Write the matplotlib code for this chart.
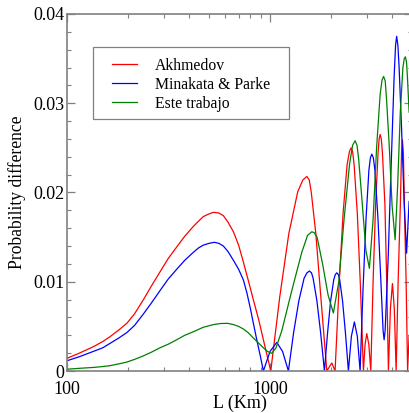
import numpy as np
import matplotlib
matplotlib.use("Agg")
import matplotlib.pyplot as plt
from matplotlib.patches import Rectangle
from matplotlib.ticker import FixedLocator, NullFormatter, FixedFormatter

# values (L in km, probability difference)
akhmedov_L = [100, 115, 135, 150, 163, 180, 197, 215, 238, 260, 287, 315, 347, 380, 419, 445, 469, 500, 526,
              560, 589, 620, 660, 700, 739, 780, 827, 880, 927, 970, 1008,
              1116, 1237, 1369, 1450, 1517, 1560, 1596, 1680, 1778, 1903, 2014, 2090,
              2188, 2289, 2395, 2460, 2506, 2550, 2594, 2689, 2785, 2882, 2938, 2994, 3064, 3134,
              3217, 3310, 3404, 3445, 3484, 3530, 3574, 3677, 3753, 3827, 3914, 4005, 4091, 4177,
              4271, 4379, 4440, 4485, 4535, 4587, 4677, 4757, 4839]
akhmedov_P = [0.00142, 0.0020, 0.00273, 0.0033, 0.00385, 0.0046, 0.00534, 0.0064, 0.0080, 0.0095, 0.0111, 0.0126, 0.0139, 0.0151, 0.0162, 0.0168, 0.0173, 0.0176, 0.01778,
              0.0177, 0.0174, 0.0167, 0.0156, 0.0141, 0.0122, 0.0102, 0.0080, 0.0057, 0.0035, 0.0016, 0.0,
              0.0083, 0.0154, 0.0201, 0.0214, 0.0218, 0.0214, 0.0200, 0.0154, 0.0083, 0.0, 0.0009, 0.0,
              0.0096, 0.0177, 0.0231, 0.0246, 0.0250, 0.0246, 0.0231, 0.0177, 0.0096, 0.0, 0.0030, 0.0042, 0.0030, 0.0,
              0.0101, 0.0187, 0.0245, 0.0260, 0.0265, 0.0260, 0.0245, 0.0187, 0.0101, 0.0, 0.0070, 0.0098, 0.0070, 0.0,
              0.0099, 0.0185, 0.0244, 0.0259, 0.0244, 0.0185, 0.0100, 0.0, 0.0040]

minakata_L = [100, 115, 135, 150, 163, 180, 197, 215, 238, 260, 287, 315, 347, 380, 419, 445, 469, 500, 532,
              560, 589, 620, 660, 700, 739, 770, 800, 830, 860, 895, 927,
              1000, 1079, 1152, 1231, 1306, 1387, 1471, 1520, 1563, 1600, 1629, 1700, 1774, 1852,
              1918, 1986, 2058, 2095, 2131, 2170, 2203, 2276, 2352, 2431, 2515, 2602, 2689, 2776,
              2871, 2971, 3067, 3120, 3170, 3225, 3283, 3397, 3514, 3603, 3645, 3686,
              3814, 3947, 4083, 4150, 4201, 4260, 4321, 4445, 4572, 4703, 4839]
minakata_P = [0.00115, 0.0016, 0.0022, 0.0026, 0.0031, 0.0037, 0.0043, 0.0051, 0.0064, 0.0076, 0.0090, 0.0103, 0.0114, 0.0124, 0.0133, 0.0138, 0.0141, 0.0143, 0.01442,
              0.0143, 0.0140, 0.0134, 0.0124, 0.0114, 0.0102, 0.0087, 0.0070, 0.0052, 0.0035, 0.0017, 0.0,
              0.0022, 0.0032, 0.0022, 0.0, 0.0043, 0.0079, 0.0104, 0.0110, 0.0112, 0.0110, 0.0104, 0.0079, 0.0043, 0.0,
              0.0042, 0.0078, 0.0102, 0.0108, 0.0110, 0.0108, 0.0102, 0.0078, 0.0042, 0.0, 0.0039, 0.0055, 0.0039, 0.0,
              0.0093, 0.0172, 0.0225, 0.0239, 0.0243, 0.0239, 0.0225, 0.0172, 0.0100, 0.0045, 0.0035, 0.0045,
              0.0125, 0.0230, 0.0330, 0.0365, 0.0375, 0.0365, 0.0340, 0.0270, 0.0190, 0.0132, 0.0190]

este_L = [100, 115, 135, 150, 163, 180, 197, 215, 238, 260, 287, 315, 347, 380, 419, 469, 526, 570, 619,
          660, 700, 739, 780, 827, 880, 927, 970, 1019, 1070,
          1142, 1279, 1433, 1530, 1605, 1650, 1704, 1814, 1931, 2050,
          2180, 2314, 2464, 2550, 2622, 2680, 2732, 2846, 2965, 3084,
          3217, 3346, 3484, 3560, 3624, 3690, 3745, 3867, 3990, 4130,
          4253, 4379, 4510, 4580, 4640, 4700, 4746, 4839]
este_P = [0.0002, 0.0003, 0.0004, 0.0005, 0.0006, 0.0008, 0.0010, 0.0013, 0.0017, 0.0021, 0.0026, 0.0030, 0.0035, 0.0040, 0.0044, 0.0049, 0.0052, 0.00532, 0.00534,
          0.0052, 0.0050, 0.0047, 0.0043, 0.0037, 0.0031, 0.0026, 0.0022, 0.00198, 0.0026,
          0.0045, 0.0090, 0.0133, 0.0152, 0.0156, 0.0155, 0.0150, 0.0120, 0.0085, 0.0065,
          0.0100, 0.0170, 0.0232, 0.0253, 0.0258, 0.0253, 0.0237, 0.0187, 0.0135, 0.0115,
          0.0170, 0.0250, 0.0310, 0.0326, 0.0330, 0.0325, 0.0305, 0.0250, 0.0185, 0.0147,
          0.0210, 0.0290, 0.0340, 0.0350, 0.0352, 0.0346, 0.0330, 0.0290]

labels = ["Akhmedov", "Minakata & Parke", "Este trabajo"]

plt.rcParams['font.family'] = ['Liberation Serif', 'DejaVu Serif']

fig = plt.figure(figsize=(4.09, 4.13), dpi=100)
ax = fig.add_axes([67 / 409, 42 / 413, 345 / 409, 357 / 413])

ax.plot(akhmedov_L, akhmedov_P, color="#ff0000", lw=0.9, label=labels[0])
ax.plot(minakata_L, minakata_P, color="#0000ff", lw=0.9, label=labels[1])
ax.plot(este_L, este_P, color="#008000", lw=0.9, label=labels[2])

ax.set_xscale("log")
ax.set_xlim(100, 5000)
ax.set_ylim(0, 0.04)

ax.xaxis.set_major_locator(FixedLocator([100, 1000]))
ax.xaxis.set_major_formatter(FixedFormatter(["100", "1000"]))
ax.xaxis.set_minor_locator(FixedLocator([200, 300, 400, 500, 600, 700, 800, 900, 2000, 3000, 4000]))
ax.xaxis.set_minor_formatter(NullFormatter())
ax.set_yticks([0, 0.01, 0.02, 0.03, 0.04])
ax.set_yticklabels(["0", "0.01", "0.02", "0.03", "0.04"])
ax.set_yticks(np.arange(0, 0.0401, 0.002), minor=True)

grey = "#808080"
for s in ax.spines.values():
    s.set_color(grey)
    s.set_linewidth(1.2)
ax.tick_params(which="both", direction="in", top=True, right=True, color=grey, labelsize=13)
ax.tick_params(axis="y", pad=2)
ax.tick_params(axis="x", pad=7)
ax.tick_params(which="major", length=6, width=0.9)
ax.tick_params(which="minor", length=3, width=0.8)

ax.set_xlabel("L (Km)", fontsize=13, labelpad=-2)
ax.set_ylabel("Probability difference", fontsize=12.7, labelpad=5)

# legend: entries placed by anchor, frame drawn as a plain box like the reference
leg = ax.legend(loc="upper left", bbox_to_anchor=(111.5 / 409, 1 - 57.5 / 413),
                bbox_transform=fig.transFigure, frameon=False, fontsize=11.3,
                handlelength=1.6, handletextpad=1.17, borderpad=0, borderaxespad=0,
                labelspacing=0.2)
box = Rectangle((93.3 / 409, 1 - 119 / 413), 196 / 409, 71.7 / 413, transform=fig.transFigure,
                facecolor="white", edgecolor=grey, lw=0.9, zorder=3)
ax.add_artist(box)
box.set_clip_on(False)
leg.set_zorder(4)

fig.savefig("out.png", dpi=100)
